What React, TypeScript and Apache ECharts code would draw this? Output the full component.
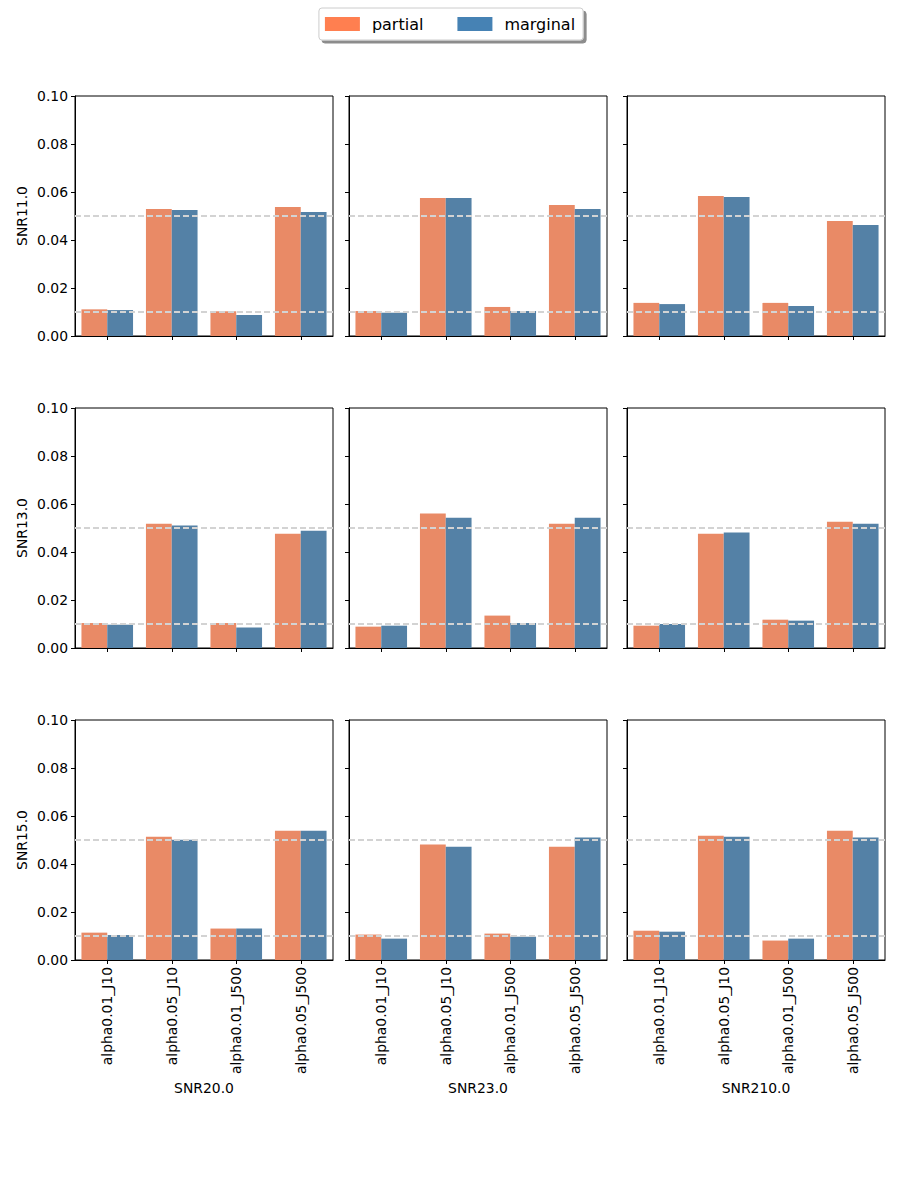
import React, { useEffect, useRef } from "react";
import * as echarts from "echarts";

const categories = ["alpha0.01_J10", "alpha0.05_J10", "alpha0.01_J500", "alpha0.05_J500"];
const rowLabels = ["SNR11.0", "SNR13.0", "SNR15.0"];
const colLabels = ["SNR20.0", "SNR23.0", "SNR210.0"];
const yTicks = [0, 0.02, 0.04, 0.06, 0.08, 0.1];
const refLines = [0.01, 0.05];

// partial / marginal values per panel: row (SNR1) x column (SNR2)
const partial_11_20 = [0.0111, 0.0529, 0.0103, 0.0538];
const marginal_11_20 = [0.0108, 0.0525, 0.0088, 0.0517];
const partial_11_23 = [0.0104, 0.0575, 0.0121, 0.0546];
const marginal_11_23 = [0.0097, 0.0575, 0.0104, 0.0529];
const partial_11_210 = [0.0138, 0.0583, 0.0138, 0.0479];
const marginal_11_210 = [0.0133, 0.0579, 0.0125, 0.0463];

const partial_13_20 = [0.0104, 0.0518, 0.0104, 0.0476];
const marginal_13_20 = [0.0097, 0.051, 0.0085, 0.0489];
const partial_13_23 = [0.0089, 0.056, 0.0135, 0.0518];
const marginal_13_23 = [0.0093, 0.0543, 0.0104, 0.0543];
const partial_13_210 = [0.0093, 0.0476, 0.0118, 0.0526];
const marginal_13_210 = [0.01, 0.0481, 0.0114, 0.0518];

const partial_15_20 = [0.0114, 0.0514, 0.0131, 0.0539];
const marginal_15_20 = [0.0104, 0.0501, 0.0131, 0.0539];
const partial_15_23 = [0.0106, 0.0481, 0.011, 0.0472];
const marginal_15_23 = [0.0089, 0.0472, 0.0097, 0.051];
const partial_15_210 = [0.0122, 0.0518, 0.0081, 0.0539];
const marginal_15_210 = [0.0118, 0.0514, 0.0089, 0.051];

const partialGrid = [
  [partial_11_20, partial_11_23, partial_11_210],
  [partial_13_20, partial_13_23, partial_13_210],
  [partial_15_20, partial_15_23, partial_15_210],
];
const marginalGrid = [
  [marginal_11_20, marginal_11_23, marginal_11_210],
  [marginal_13_20, marginal_13_23, marginal_13_210],
  [marginal_15_20, marginal_15_23, marginal_15_210],
];

const FONT = "DejaVu Sans";
const FS = 13.9;
const colLeft = [75, 349, 627];
const rowTop = [96, 408, 720];
const panelW = 258;
const panelH = 240;

export default function App() {
  const ref = useRef<HTMLDivElement>(null);
  useEffect(() => {
    document.body.style.margin = "0";
    if (!ref.current) return;
    const chart = echarts.init(ref.current, undefined, { renderer: "svg" });
    const grids: any[] = [];
    const xAxes: any[] = [];
    const yAxes: any[] = [];
    const series: any[] = [];
    let idx = 0;
    for (let r = 0; r < 3; r++) {
      for (let c = 0; c < 3; c++) {
        grids.push({
          left: colLeft[c],
          top: rowTop[r],
          width: panelW,
          height: panelH,
          show: true,
          borderColor: "#000",
          borderWidth: 1,
          backgroundColor: "transparent",
        });
        xAxes.push({
          type: "category",
          gridIndex: idx,
          data: categories,
          name: r === 2 ? colLabels[c] : "",
          nameLocation: "middle",
          nameGap: 121,
          nameTextStyle: { fontFamily: FONT, fontSize: FS, color: "#000" },
          axisLine: { show: true, lineStyle: { color: "#000", width: 1 } },
          axisTick: { show: true, alignWithLabel: true, length: 4, lineStyle: { color: "#000" } },
          axisLabel: {
            show: r === 2,
            rotate: 90,
            margin: 7,
            fontFamily: FONT,
            fontSize: FS,
            color: "#000",
            interval: 0,
          },
          splitLine: { show: false },
        });
        yAxes.push({
          type: "value",
          gridIndex: idx,
          min: 0,
          max: 0.1,
          interval: 0.02,
          name: c === 0 ? rowLabels[r] : "",
          nameLocation: "middle",
          nameGap: 46,
          nameRotate: 90,
          nameTextStyle: { fontFamily: FONT, fontSize: FS, color: "#000" },
          axisLine: { show: true, lineStyle: { color: "#000", width: 1 } },
          axisTick: { show: true, length: 4, lineStyle: { color: "#000" } },
          axisLabel: {
            show: c === 0,
            margin: 7,
            fontFamily: FONT,
            fontSize: FS,
            color: "#000",
            formatter: (v: number) => (yTicks.some((t) => Math.abs(t - v) < 1e-9) ? v.toFixed(2) : ""),
          },
          splitLine: { show: false },
        });
        series.push({
          type: "bar",
          name: "partial",
          xAxisIndex: idx,
          yAxisIndex: idx,
          data: partialGrid[r][c],
          barWidth: "40%",
          barGap: "0%",
          itemStyle: { color: "#E98A66" },
        });
        series.push({
          type: "bar",
          name: "marginal",
          xAxisIndex: idx,
          yAxisIndex: idx,
          data: marginalGrid[r][c],
          barWidth: "40%",
          barGap: "0%",
          itemStyle: { color: "#5481A6" },
          markLine: {
            silent: true,
            symbol: "none",
            z: 10,
            label: { show: false },
            lineStyle: { color: "#d3d3d3", type: [6, 3], width: 1.8 },
            data: refLines.map((v) => ({ yAxis: v })),
          },
        });
        idx++;
      }
    }
    chart.setOption({
      animation: false,
      backgroundColor: "#fff",
      textStyle: { fontFamily: FONT },
      legend: {
        top: 8,
        left: "center",
        itemWidth: 35,
        itemHeight: 14,
        itemGap: 34,
        padding: [8, 8, 8, 6],
        borderColor: "#ccc",
        borderWidth: 1,
        borderRadius: 3,
        backgroundColor: "#fff",
        shadowColor: "rgba(0,0,0,0.45)",
        shadowOffsetX: 3,
        shadowOffsetY: 3,
        shadowBlur: 0,
        textStyle: { fontFamily: FONT, fontSize: 16, color: "#000", padding: [0, 0, 0, 7] },
        data: [
          { name: "partial", itemStyle: { color: "#FF7F50" }, icon: "rect" },
          { name: "marginal", itemStyle: { color: "#4682B4" }, icon: "rect" },
        ],
      },
      grid: grids,
      xAxis: xAxes,
      yAxis: yAxes,
      series,
    });
    return () => chart.dispose();
  }, []);
  return <div ref={ref} style={{ width: 900, height: 1200 }} />;
}
